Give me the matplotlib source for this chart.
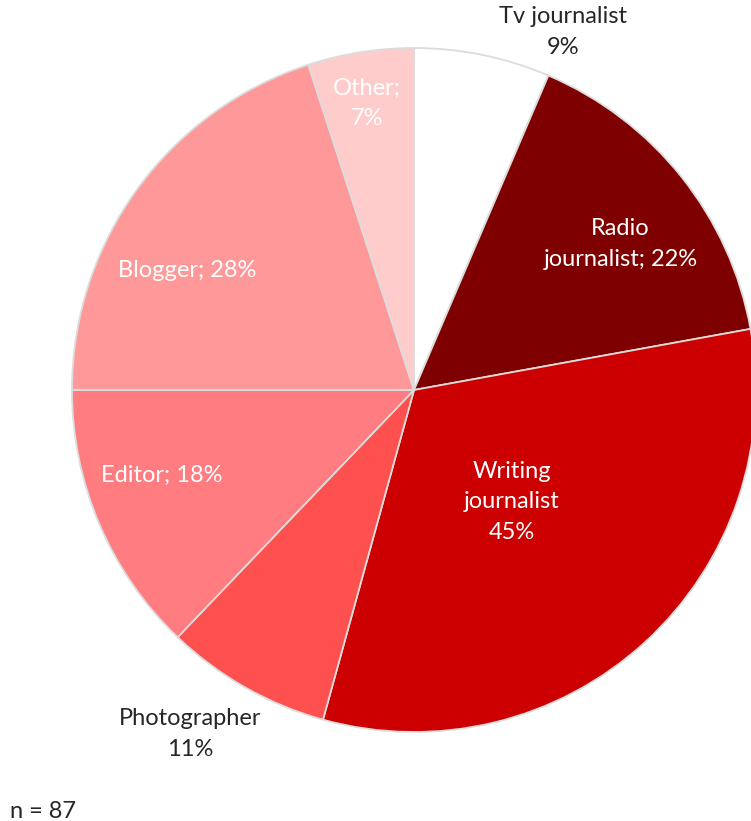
import numpy as np
import matplotlib
matplotlib.use('Agg')
from matplotlib import pyplot as plt

plt.rcParams['font.family'] = ['Lato', 'DejaVu Sans']

# data
roles = ['Tv journalist', 'Radio journalist', 'Writing journalist', 'Photographer',
         'Editor', 'Blogger', 'Other']
shares = [9, 22, 45, 11, 18, 28, 7]
labels = ['Tv journalist\n9%', 'Radio\njournalist; 22%', 'Writing\njournalist\n45%',
          'Photographer\n11%', 'Editor; 18%', 'Blogger; 28%', 'Other;\n7%']
n_resp = 87

colors = ['#FFFFFF', '#7F0000', '#CC0000', '#FF5050', '#FF7C80', '#FF9999', '#FFCCCC']
# label placement: (angle offset from wedge middle in deg, radius factor, text colour)
layout = [(11.0, 1.134, '#262626'), (3.3, 0.74, 'white'), (1.2, 0.435, 'white'),
          (3.5, 1.20, '#262626'), (4.4, 0.78, 'white'), (-8.2, 0.75, 'white'),
          (-0.3, 0.85, 'white')]

W, H = 751, 821
fig = plt.figure(figsize=(W / 100, H / 100), dpi=100)
ax = fig.add_axes([0, 0, 1, 1])

cx, cy, r = 414, H - 390, 342
wedges, _ = ax.pie(shares, colors=colors, startangle=90, counterclock=False,
                   center=(cx, cy), radius=r, frame=True,
                   wedgeprops=dict(edgecolor='#DCDCDC', linewidth=1.3))
ax.set_xlim(0, W)
ax.set_ylim(0, H)
ax.set_aspect('equal')
ax.axis('off')

for w, lab, (da, rf, col) in zip(wedges, labels, layout):
    mid = (w.theta1 + w.theta2) / 2 - da
    x = cx + rf * r * np.cos(np.radians(mid))
    y = cy + rf * r * np.sin(np.radians(mid))
    ax.text(x, y, lab, ha='center', va='center', fontsize=17, color=col,
            linespacing=1.55, multialignment='center')

ax.text(10, 9, 'n = %d' % n_resp, ha='left', va='center', fontsize=17, color='#262626')

fig.savefig('out.png', dpi=100)
